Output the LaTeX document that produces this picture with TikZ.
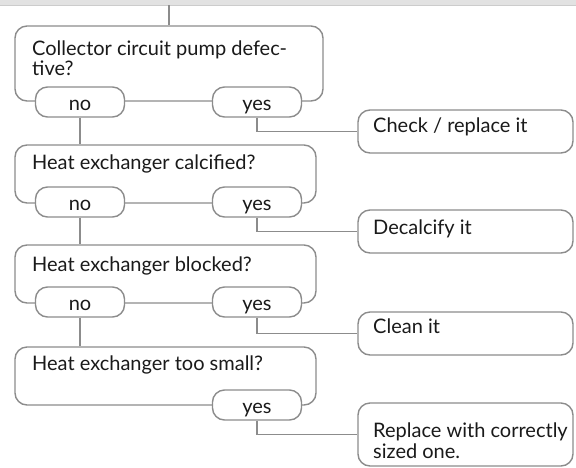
\documentclass[tikz,border=0pt]{standalone}
\usepackage{fontspec}
\setmainfont{Lato}
\definecolor{linegray}{HTML}{8C8C8C}
\definecolor{textcol}{HTML}{1A1A1A}
\definecolor{bandgray}{HTML}{E2E2E2}
\begin{document}
\begin{tikzpicture}[x=1pt,y=-1pt,
  line/.style={draw=linegray, line width=1.4pt},
  qbox/.style={rectangle, draw=linegray, line width=1.4pt, rounded corners=12pt, inner sep=0pt, fill=white},
  pill/.style={qbox, minimum width=89pt, minimum height=30pt, text=textcol, text height=18pt, text depth=2pt, font=\fontsize{20}{21}\selectfont},
  txt/.style={anchor=base west, inner sep=0pt, text=textcol, font=\fontsize{20}{21}\selectfont},
]
\useasboundingbox (0,0) rectangle (576,467);
\clip (0,0) rectangle (576,467);
\fill[bandgray] (0,0) rectangle (576,5);
\draw[draw=gray!40, line width=0.6pt] (0,5) -- (576,5);

% question boxes
\node[qbox, minimum width=308pt, minimum height=75pt] (q1) at (169,63.5) {};
\node[qbox, minimum width=301pt, minimum height=58pt] (q2) at (165.5,174) {};
\node[qbox, minimum width=301pt, minimum height=58pt] (q3) at (165.5,274) {};
\node[qbox, minimum width=301pt, minimum height=58pt] (q4) at (165.5,376) {};

% action boxes
\node[qbox, minimum width=215pt, minimum height=43pt] (a1) at (465.5,131.5) {};
\node[qbox, minimum width=215pt, minimum height=43pt] (a2) at (465.5,231.5) {};
\node[qbox, minimum width=215pt, minimum height=43pt] (a3) at (465.5,333.5) {};
\node[qbox, minimum width=215pt, minimum height=63pt] (a4) at (465.5,434.5) {};

% texts
\node[txt] (t1a) at (32,55) {Collector circuit pump defec-};
\node[txt] (t1b) at (32,75) {tive?};
\node[txt] (t2) at (32,169) {Heat exchanger calcified?};
\node[txt] (t3) at (32,271) {Heat exchanger blocked?};
\node[txt] (t4) at (32,370) {Heat exchanger too small?};
\node[txt] (ta1) at (373,132) {Check / replace it};
\node[txt] (ta2) at (373,234) {Decalcify it};
\node[txt] (ta3) at (373,333) {Clean it};
\node[txt] (ta4a) at (373,437) {Replace with correctly};
\node[txt] (ta4b) at (373,458) {sized one.};

% top connector
\coordinate (top) at (169,5);
\draw[line] (top) -- (q1.north);

% answer pills
\node[pill] (p1n) at (80,102) {no};
\node[pill] (p1y) at (257,102) {yes};
\node[pill] (p2n) at (80,202) {no};
\node[pill] (p2y) at (257,202) {yes};
\node[pill] (p3n) at (80,302) {no};
\node[pill] (p3y) at (257,302) {yes};
\node[pill] (p4y) at (257,405) {yes};

% connectors
\draw[line] (p1n.south) -- (p1n.south |- q2.north);
\draw[line] (p2n.south) -- (p2n.south |- q3.north);
\draw[line] (p3n.south) -- (p3n.south |- q4.north);
\draw[line] (p1y.south) |- (a1.west);
\draw[line] (p2y.south) |- (a2.west);
\draw[line] (p3y.south) |- (a3.west);
\draw[line] (p4y.south) |- (a4.west);
\end{tikzpicture}
\end{document}
